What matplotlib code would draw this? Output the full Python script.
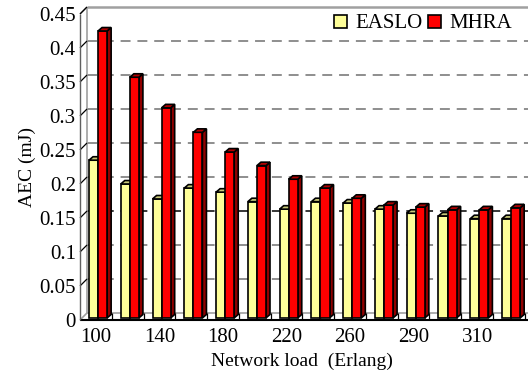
import matplotlib
matplotlib.use('Agg')
import matplotlib.pyplot as plt
from matplotlib.patches import Polygon, Patch

plt.rcParams['font.family'] = ['Liberation Serif', 'DejaVu Serif']
plt.rcParams['font.size'] = 15

loads = [100, 120, 140, 160, 180, 200, 220, 240, 260, 270, 290, 300, 310, 320]
easlo = [0.232, 0.197, 0.175, 0.191, 0.185, 0.171, 0.160,
         0.171, 0.169, 0.160, 0.154, 0.150, 0.146, 0.146]
mhra = [0.422, 0.354, 0.309, 0.273, 0.244, 0.224, 0.204,
        0.191, 0.176, 0.166, 0.163, 0.159, 0.159, 0.162]
yticks = [0, 0.05, 0.1, 0.15, 0.2, 0.25, 0.3, 0.35, 0.4, 0.45]

# pseudo-3d geometry (data units)
ddx, ddy = 0.22, 0.0103      # depth of the box
sdx, sdy = 0.127, 0.0051     # depth of a bar
bdy = 0.003                  # bars sit slightly behind the front plane
w = 0.285
off = 0.068

yel = ('#ffff99', '#c8c878', '#a8a860')   # front, top, side
red = ('#ff0000', '#b00000', '#900000')

fig = plt.figure(figsize=(5.28, 3.85), dpi=100)
ax = fig.add_axes([80 / 528, 65 / 385, 444.8 / 528, 306 / 385])
n = len(loads)
x0, x1 = 0.5, n + 0.5
ax.set_xlim(x0, x1)
ax.set_ylim(0, 0.45)
for s in ax.spines.values():
    s.set_visible(False)


def line(xs, ys, **kw):
    ax.plot(xs, ys, clip_on=False, solid_capstyle='butt', **kw)


# back wall grid
for v in yticks[1:-1]:
    col = 'black' if v == 0.15 else '#707070'
    line([x0 + ddx, x1 + ddx + 1], [v + ddy, v + ddy], color=col, lw=1.1,
         linestyle=(0, (6.5, 4.5)), zorder=1)
line([x0 + ddx, x1 + ddx + 1], [0.45 + ddy] * 2, color='#a0a0a0', lw=1.8, zorder=1)
line([x0 + ddx, x1 + ddx + 1], [ddy] * 2, color='#a0a0a0', lw=1.2, zorder=1)
line([x0 + ddx] * 2, [ddy, 0.45 + ddy], color='#a0a0a0', lw=1.2, zorder=1)
line([x0, x0 + ddx], [0.45, 0.45 + ddy], color='#a0a0a0', lw=1.2, zorder=1)
line([x0, x0 + ddx], [0, ddy], color='#a0a0a0', lw=1.2, zorder=1)

# left-wall ticks and floor ticks
for v in yticks[1:]:
    line([x0, x0 + ddx], [v, v + ddy], color='black', lw=0.9, zorder=2)
for i in range(n):
    b = x0 + i + 1
    line([b, b], [0, ddy], color='black', lw=0.9, zorder=2)


def bar3(xl, xr, v, cols, z):
    top = v + bdy
    side = [(xr, bdy), (xr, top), (xr + sdx, top + sdy), (xr + sdx, bdy + sdy)]
    lid = [(xl, top), (xr, top), (xr + sdx, top + sdy), (xl + sdx, top + sdy)]
    front = [(xl, bdy), (xr, bdy), (xr, top), (xl, top)]
    for pts, c in ((side, cols[2]), (front, cols[0]), (lid, cols[1])):
        ax.add_patch(Polygon(pts, closed=True, facecolor=c, edgecolor='black',
                             lw=1.2, joinstyle='miter', clip_on=False, zorder=z))


for i in range(n):
    c = i + 1
    bar3(c + off - w, c + off, easlo[i], yel, 3)
    bar3(c + off, c + off + w, mhra[i], red, 4)

# front edges
line([x0, x1 + 1], [0, 0], color='black', lw=1.5, zorder=5)
line([x0, x0], [0, 0.45], color='#606060', lw=1.0, zorder=5)

ax.set_yticks(yticks)
ax.set_yticklabels(['0', '0.05', '0.1', '0.15', '0.2', '0.25', '0.3',
                    '0.35', '0.4', '0.45'])
ax.set_xticks(range(1, n + 1))
ax.set_xticklabels([str(l) if i % 2 == 0 else '' for i, l in enumerate(loads)])
ax.tick_params(axis='both', length=0)
ax.tick_params(axis='y', pad=3)
ax.tick_params(axis='x', pad=6)
ax.set_xlabel('Network load  (Erlang)', fontsize=14, labelpad=4)
ax.set_ylabel('AEC (mJ)', fontsize=14, labelpad=2)

handles = [Patch(facecolor=yel[0], edgecolor='black', lw=1.2, label='EASLO'),
           Patch(facecolor=red[0], edgecolor='black', lw=1.2, label='MHRA')]
fig.legend(handles=handles, loc='center right', bbox_to_anchor=(512 / 528, 1 - 24 / 385),
           ncol=2, frameon=False, handlelength=0.6, handleheight=0.6,
           handletextpad=0.4, columnspacing=0.3, borderpad=0, borderaxespad=0)

fig.savefig('out.png', dpi=100)
